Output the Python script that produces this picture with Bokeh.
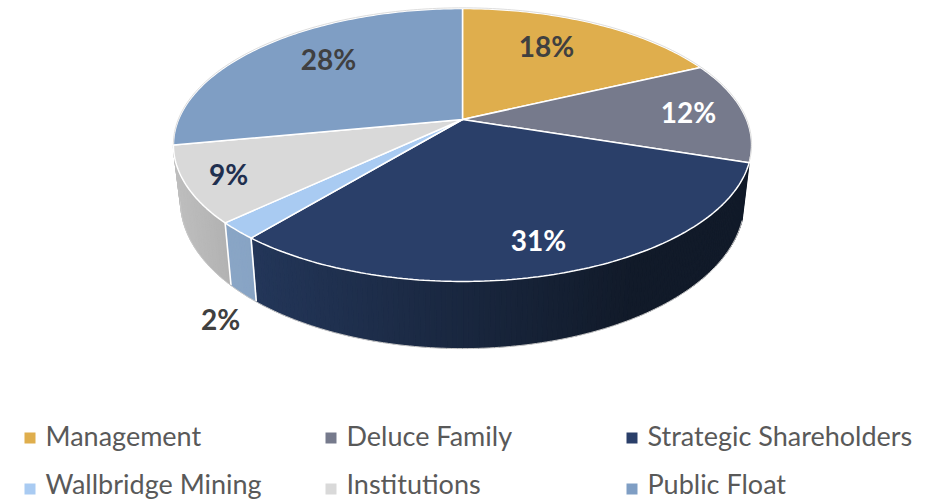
import math
from bokeh.plotting import figure
from bokeh.models import Range1d
from bokeh.core.properties import value
from bokeh.embed import file_html
from bokeh.resources import INLINE

categories = ["Management", "Deluce Family", "Strategic Shareholders",
              "Wallbridge Mining", "Institutions", "Public Float"]
shares = [18, 12, 31, 2, 9, 28]
labels = ["18%", "12%", "31%", "2%", "9%", "28%"]
top_colors = ["#DFAE4D", "#767A8C", "#2A3F69", "#A9CBF2", "#D9D9D9", "#7F9EC4"]
label_colors = ["#404040", "#FFFFFF", "#FFFFFF", "#404040", "#1F2F4F", "#404040"]
label_x = [546, 688, 538, 220, 228, 328]
label_y = [45.5, 111.5, 239.5, 318.5, 173.5, 58.5]

# perspective projection of the pie disc, in page pixels
CX, CY, K = 462, 119, 0.1868
TOP_A, TOP_B = 284, 131.7
LOW_A, LOW_B, LOW_Y = 277, 142, 173


def project(pct, a, b, y0):
    t = math.radians(pct * 3.6)
    u, v = math.sin(t), math.cos(t)
    d = 1 + K * v
    return CX + a * u / d, y0 - b * v / d


def top(pct):
    return project(pct, TOP_A, TOP_B, CY)


def low(pct):
    return project(pct, LOW_A, LOW_B, LOW_Y)


def mix(c1, c2, t):
    a = [int(c1[i:i + 2], 16) for i in (1, 3, 5)]
    b = [int(c2[i:i + 2], 16) for i in (1, 3, 5)]
    return "#%02x%02x%02x" % tuple(round(x + (y - x) * t) for x, y in zip(a, b))


starts = [sum(shares[:i]) for i in range(len(shares))]
ends = [sum(shares[:i + 1]) for i in range(len(shares))]

p = figure(width=946, height=500, output_backend="svg", toolbar_location=None,
           x_range=Range1d(0, 946), y_range=Range1d(500, 0),
           min_border=0, outline_line_color=None)
p.axis.visible = False
p.grid.visible = False
p.background_fill_color = None
p.border_fill_color = None

# side wall strips, shaded by horizontal position
wx, wy, wc = [], [], []
STEP = 0.25


def strips(p0, p1, x0, x1, c0, c1):
    n = max(1, round((p1 - p0) / STEP))
    for i in range(n):
        a = p0 + (p1 - p0) * i / n
        b = p0 + (p1 - p0) * (i + 1) / n
        ta, tb, la, lb = top(a), top(b), low(a), low(b)
        wx.append([ta[0], tb[0], lb[0], la[0]])
        wy.append([ta[1], tb[1], lb[1], la[1]])
        t = min(1, max(0, ((la[0] + lb[0]) / 2 - x0) / (x1 - x0)))
        wc.append(mix(c0, c1, t))


strips(ends[1], ends[2], 256, 630, "#233659", "#111A29")
strips(ends[2], ends[3], 226, 256, "#8AA6C6", "#87A3C4")
strips(ends[3], ends[4], 180, 231, "#BEBEBE", "#B2B2B2")
p.patches(wx, wy, fill_color=wc, line_color=wc, line_width=1.2)

# white separators on the wall
sep = [ends[2], ends[3]]
p.multi_line([[top(s)[0], low(s)[0]] for s in sep], [[top(s)[1], low(s)[1]] for s in sep],
             line_color="#FFFFFF", line_width=1.6)

# soft outer rim: bottom of wall and back of the disc
rim_low = [ends[1] + i * STEP for i in range(int((ends[4] - ends[1]) / STEP) + 1)]
p.line([low(a)[0] for a in rim_low], [low(a)[1] + 0.5 for a in rim_low],
       line_color="#C8C8C8", line_width=1)

# top faces
fx, fy = [], []
for s, e in zip(starts, ends):
    n = max(2, int((e - s) / STEP))
    pts = [top(s + (e - s) * i / n) for i in range(n + 1)]
    fx.append([CX] + [q[0] for q in pts])
    fy.append([CY] + [q[1] for q in pts])
p.patches(fx, fy, fill_color=top_colors, line_color="#FFFFFF", line_width=1.5)

rim_back = [ends[4] + i * STEP for i in range(int((100 + ends[1] - ends[4]) / STEP) + 1)]
p.line([top(a)[0] for a in rim_back], [top(a)[1] - 0.7 for a in rim_back],
       line_color="#D4D4D4", line_width=0.8)

# value labels
p.text(label_x, label_y, text=labels, text_color=label_colors,
       text_font=value("Lato"), text_font_style="bold", text_font_size="28px",
       text_align="center", text_baseline="middle")

# legend
col_x = [24, 325, 626]
row_y = [437.5, 488.5]
text_y = [434.5, 483]
lx = [col_x[i % 3] for i in range(6)]
ly = [row_y[i // 3] for i in range(6)]
ty = [text_y[i // 3] for i in range(6)]
p.quad(left=lx, right=[x + 11 for x in lx], top=[y - 5.5 for y in ly], bottom=[y + 5.5 for y in ly],
       fill_color=top_colors, line_color=None)
p.text([x + 21 for x in lx], ty, text=categories, text_color="#595959",
       text_font=value("Lato"), text_font_size="27px", text_align="left", text_baseline="middle")

open("out.html", "w").write(file_html(p, INLINE))
